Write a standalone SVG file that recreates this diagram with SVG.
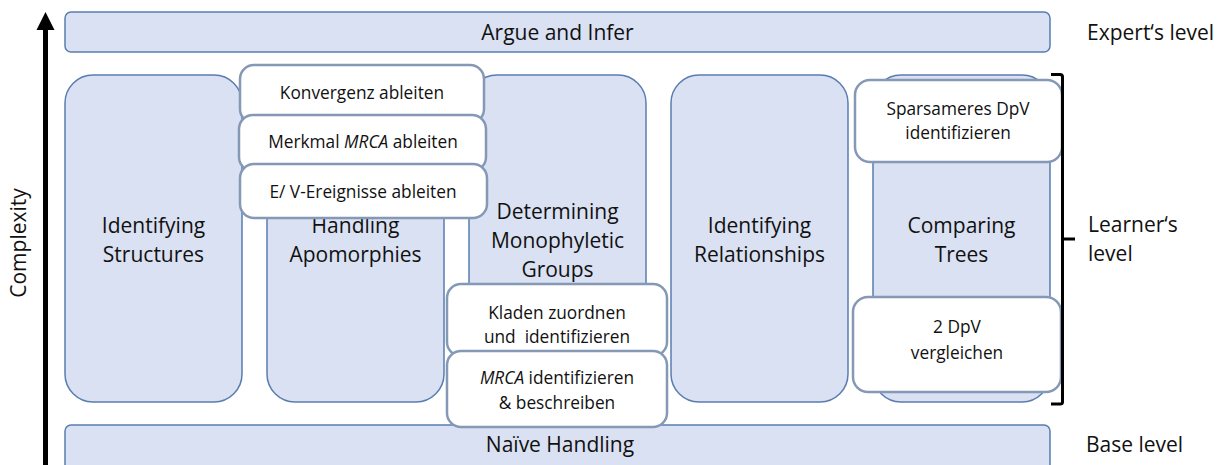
<svg xmlns="http://www.w3.org/2000/svg" width="1228" height="465" viewBox="0 0 1228 465">
  <style>
    .bar { fill: #dae1f2; stroke: #5a7db0; stroke-width: 1.5; }
    .col { fill: #dae1f2; stroke: #5a7db0; stroke-width: 1.5; }
    .box { fill: #ffffff; stroke: #8599b6; stroke-width: 2.5; }
    .big { font-family: "Open Sans", "Liberation Sans", sans-serif; font-size: 21px; fill: #111; text-anchor: middle; }
    .side { font-family: "Open Sans", "Liberation Sans", sans-serif; font-size: 21px; fill: #111; }
    .small { font-family: "Open Sans", "Liberation Sans", sans-serif; font-size: 17.3px; fill: #111; text-anchor: middle; }
  </style>

  <!-- Complexity axis -->
  <g id="axis">
    <rect x="43" y="28" width="5" height="440" fill="#000"/>
    <polygon points="45.5,12 36.5,30 54.5,30" fill="#000"/>
    <text class="big" transform="translate(26,243) rotate(-90)">Complexity</text>
  </g>

  <!-- Top and bottom bars -->
  <g id="expert">
    <rect class="bar" x="65" y="12" width="985" height="40" rx="6"/>
    <text class="big" x="557.5" y="40">Argue and Infer</text>
  </g>
  <g id="base">
    <rect class="bar" x="65" y="425" width="985" height="50" rx="6"/>
    <text class="big" x="560" y="452">Naïve Handling</text>
  </g>

  <!-- Columns -->
  <g id="col-structures">
    <rect class="col" x="65" y="75" width="177" height="327" rx="28"/>
    <text class="big" x="153.5" y="233">Identifying</text>
    <text class="big" x="153.5" y="262">Structures</text>
  </g>
  <g id="col-apomorphies">
    <rect class="col" x="267" y="75" width="177" height="327" rx="28"/>
    <text class="big" x="355.5" y="233">Handling</text>
    <text class="big" x="355.5" y="262">Apomorphies</text>
  </g>
  <g id="col-monophyletic">
    <rect class="col" x="469" y="75" width="177" height="327" rx="28"/>
    <text class="big" x="557.5" y="219">Determining</text>
    <text class="big" x="557.5" y="248">Monophyletic</text>
    <text class="big" x="557.5" y="277">Groups</text>
  </g>
  <g id="col-relationships">
    <rect class="col" x="671" y="75" width="177" height="327" rx="28"/>
    <text class="big" x="759.5" y="233">Identifying</text>
    <text class="big" x="759.5" y="262">Relationships</text>
  </g>
  <g id="col-trees">
    <rect class="col" x="873" y="75" width="177" height="327" rx="28"/>
    <text class="big" x="961.5" y="233">Comparing</text>
    <text class="big" x="961.5" y="262">Trees</text>
  </g>

  <!-- White sub-boxes -->
  <g id="box-konvergenz">
    <rect class="box" x="240" y="65" width="244" height="58" rx="14"/>
    <text class="small" x="362" y="99">Konvergenz ableiten</text>
  </g>
  <g id="box-merkmal">
    <rect class="box" x="239" y="115" width="247" height="56" rx="14"/>
    <text class="small" x="363" y="148">Merkmal <tspan font-style="italic">MRCA</tspan> ableiten</text>
  </g>
  <g id="box-ev">
    <rect class="box" x="240" y="164" width="247" height="54" rx="14"/>
    <text class="small" x="363" y="198">E/ V-Ereignisse ableiten</text>
  </g>
  <g id="box-kladen">
    <rect class="box" x="447" y="284" width="220" height="72" rx="14"/>
    <text class="small" x="557" y="319">Kladen zuordnen</text>
    <text class="small" x="557" y="343" xml:space="preserve">und  identifizieren</text>
  </g>
  <g id="box-mrca">
    <rect class="box" x="447" y="351" width="220" height="76" rx="14"/>
    <text class="small" x="557" y="384"><tspan font-style="italic">MRCA</tspan> identifizieren</text>
    <text class="small" x="557" y="409">&amp; beschreiben</text>
  </g>
  <g id="box-sparsameres">
    <rect class="box" x="855" y="80" width="207" height="82" rx="15"/>
    <text class="small" x="958" y="115">Sparsameres DpV</text>
    <text class="small" x="958" y="139">identifizieren</text>
  </g>
  <g id="box-vergleichen">
    <rect class="box" x="853" y="297" width="208" height="95" rx="15"/>
    <text class="small" x="957" y="333">2 DpV</text>
    <text class="small" x="957" y="359">vergleichen</text>
  </g>

  <!-- Level bracket and labels -->
  <g id="connectors">
    <path d="M1051,74.5 H1060 Q1062.5,74.5 1062.5,77 V402 Q1062.5,404 1060,404 H1051 M1062.5,239 H1075" fill="none" stroke="#000" stroke-width="3"/>
  </g>
  <g id="labels">
    <text class="side" x="1087" y="40">Expert‘s level</text>
    <text class="side" x="1088" y="232">Learner‘s</text>
    <text class="side" x="1088" y="261">level</text>
    <text class="side" x="1086" y="452">Base level</text>
  </g>
</svg>
